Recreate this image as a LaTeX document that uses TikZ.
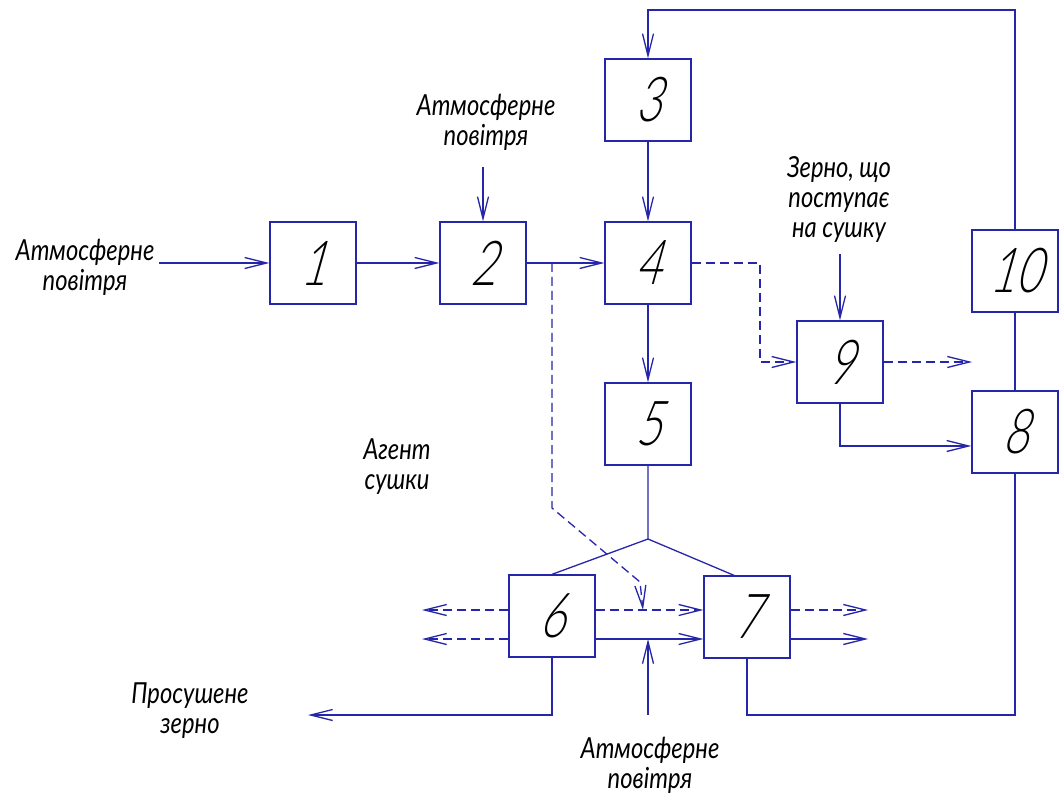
\documentclass[tikz,border=0pt]{standalone}
\usepackage{fontspec}
\newfontfamily\lblfont{Lato}[FakeStretch=0.82]
\newfontfamily\numfont{Lato}[UprightFont=* Light, FakeSlant=0.28, FakeStretch=0.72]
\usetikzlibrary{arrows.meta}
\definecolor{ln}{RGB}{38,38,170}
\tikzset{
  blk/.style={draw=ln, line width=1.3pt, minimum width=86pt, minimum height=82pt, inner sep=0pt,
    font=\numfont\fontsize{62}{62}\selectfont},
  flow/.style={draw=ln, line width=1.3pt},
  arr/.style={flow, -{Straight Barb[length=22pt,width=11pt]}},
  darr/.style={arr, dash pattern=on 9pt off 5pt},
  lbl/.style={font=\lblfont\itshape\fontsize{29}{30}\selectfont, align=center, inner sep=0pt},
}
\begin{document}
\begin{tikzpicture}[x=1pt,y=-1pt]
\fill[white] (0,0) rectangle (1061,794);
\useasboundingbox (0,0) rectangle (1061,794);
% blocks
\node[blk] (b1) at (313,263) {1};
\node[blk] (b2) at (483,263) {2};
\node[blk] (b3) at (648,100) {3};
\node[blk] (b4) at (648,263) {4};
\node[blk] (b5) at (648,424) {5};
\node[blk] (b6) at (552,616) {6};
\node[blk] (b7) at (747,617) {7};
\node[blk] (b8) at (1015,432) {8};
\node[blk] (b9) at (840,362) {9};
\node[blk] (b10) at (1015,271) {10};
% labels
\node[lbl] (tL) at (85,267) {Атмосферне\\повітря};
\node[lbl] (tT) at (486,122) {Атмосферне\\повітря};
\node[lbl] (tG) at (839,200) {Зерно, що\\поступає\\на сушку};
\node[lbl] (tA) at (397,467) {Агент\\сушки};
\node[lbl] (tD) at (190,711) {Просушене\\зерно};
\node[lbl] (tB) at (650,765) {Атмосферне\\повітря};
% coordinates
\coordinate (inL) at (159,263);
\coordinate (in2) at (483,167);
\coordinate (tc) at (648,10);
\coordinate (dk) at (760,362);
\coordinate (in9) at (840,254);
\coordinate (o9) at (972,362);
\coordinate (fork) at (648,539);
\coordinate (s1) at (552,263);
\coordinate (s2) at (552,508);
\coordinate (s3) at (640,582);
\coordinate (s4) at (643,610);
\coordinate (l1) at (422,610);
\coordinate (l2) at (422,639);
\coordinate (r1) at (868,610);
\coordinate (r2) at (868,639);
\coordinate (in67) at (648,715);
\coordinate (t67) at (648,639);
\coordinate (dry) at (308,715);
\coordinate (br) at (1015,715);
% connectors
\draw[arr] (inL) -- (b1);
\draw[arr] (b1) -- (b2);
\draw[arr] (b2) -- (b4);
\draw[arr] (in2) -- (b2);
\draw[arr] (b10.north) |- (tc) -- (b3.north);
\draw[arr] (b3) -- (b4);
\draw[arr] (b4) -- (b5);
\draw[darr] (b4.east) -| (dk) -- (b9.west);
\draw[arr] (in9) -- (b9);
\draw[darr] (b9.east) -- (o9);
\draw[arr] (b9.south) |- ([yshift=-14pt]b8.west);
\draw[flow] (b10) -- (b8);
\draw[flow] (b5.south) -- (fork) -- (b6.north);
\draw[flow] (fork) -- ([xshift=-13pt]b7.north);
\draw[darr] (s1) -- (s2) -- (s3) -- (s4);
\draw[darr] (b6.west |- l1) -- (l1);
\draw[darr] (b6.west |- l2) -- (l2);
\draw[darr] (b6.east |- l1) -- (b7.west |- l1);
\draw[arr] (b6.east |- l2) -- (b7.west |- l2);
\draw[darr] (b7.east |- r1) -- (r1);
\draw[arr] (b7.east |- r2) -- (r2);
\draw[arr] (in67) -- (t67);
\draw[arr] (b6.south) |- (dry);
\draw[flow] (b7.south) |- (br) -- (b8.south);
\end{tikzpicture}
\end{document}
